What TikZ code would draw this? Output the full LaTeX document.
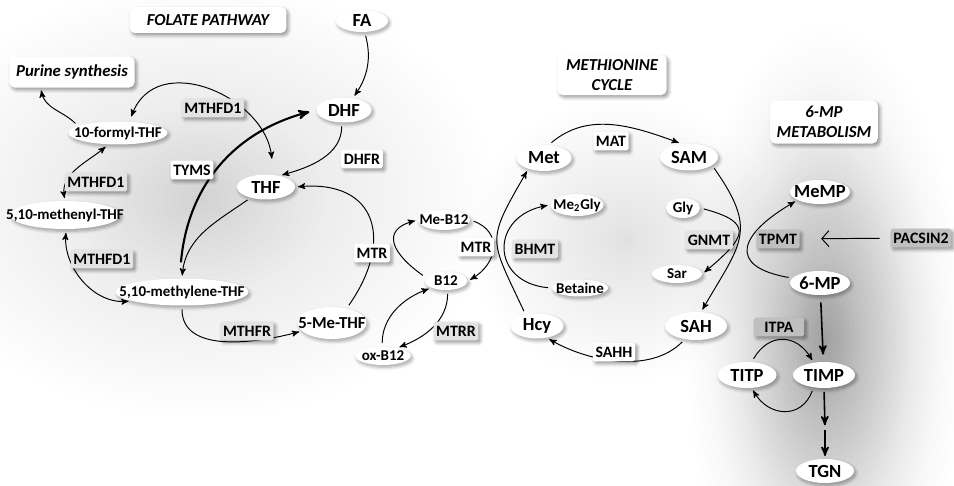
\documentclass[tikz,border=0pt]{standalone}
\usepackage{fontspec}
\setmainfont{Carlito}
\usetikzlibrary{arrows}
\usetikzlibrary{arrows.meta}
\usetikzlibrary{shapes.geometric}
\usetikzlibrary{shadows.blur}

\newcommand{\nm}[1]{\makebox[0pt]{#1}}

\tikzset{
  mol/.style 2 args={ellipse, fill=white, inner sep=0pt,
    minimum width=#1*0.567pt, minimum height=#2*0.567pt,
    font=\bfseries\fontsize{10.5}{11}\selectfont,
    blur shadow={shadow xshift=1pt, shadow yshift=-1.3pt, shadow blur steps=6, shadow opacity=35}},
  molsm/.style 2 args={mol={#1}{#2}, font=\bfseries\fontsize{8.5}{9}\selectfont},
  enz/.style={rectangle, rounded corners=1pt, fill=white, inner xsep=1.5pt, inner ysep=1.8pt,
    text height=6.4pt, text depth=.6pt, font=\bfseries\fontsize{9}{10}\selectfont,
    blur shadow={shadow xshift=1.2pt, shadow yshift=-1.4pt, shadow blur steps=5, shadow opacity=40}},
  enzg/.style={enz, fill=gray!22},
  enzd/.style={enz, fill=gray!50},
  ttlbox/.style={rectangle, rounded corners=3pt, fill=white, align=center, inner sep=0pt,
    font=\bfseries\itshape\fontsize{9.5}{11.3}\selectfont,
    blur shadow={shadow xshift=1.2pt, shadow yshift=-1.4pt, shadow blur steps=5, shadow opacity=40}},
  rxn/.style={->, >=stealth', line width=.55pt, shorten <=2pt, shorten >=1.5pt},
}

\begin{document}
\begin{tikzpicture}[x=0.567pt, y=0.567pt]
\useasboundingbox (0,0) rectangle (954,-486);
\clip (0,0) rectangle (954,-486);
% grey clouds behind the three pathways
\foreach \k [evaluate=\k as \opa using (41-\k)*0.000207,
             evaluate=\k as \opb using (41-\k)*0.000146,
             evaluate=\k as \opc using (41-\k)*0.00055] in {40,39,...,1} {
 \fill[black, opacity=\opa] (200,-200) ellipse [x radius=\k*9.5, y radius=\k*7];
 \fill[black, opacity=\opb] (625,-240) ellipse [x radius=\k*5.5, y radius=\k*5];
 \fill[black, opacity=\opc] (825,-340) ellipse [x radius=\k*3.75, y radius=\k*8.5];
}

% titles
\node[ttlbox, minimum width=89pt, minimum height=14.7pt] (ttlfol) at (208,-20) {FOLATE PATHWAY};
\node[ttlbox, minimum width=71pt, minimum height=17.6pt] (purine) at (72,-72) {Purine synthesis};
\node[ttlbox, minimum width=62pt, minimum height=22.7pt] (ttlmet) at (612,-75) {METHIONINE\\CYCLE};
\node[ttlbox, minimum width=61pt, minimum height=24.4pt] (ttlmp) at (824,-122) {6-MP\\METABOLISM};

% folate pathway
\node[mol={52}{22}] (FA) at (362,-21) {\nm{FA}};
\node[mol={55}{25}] (DHF) at (344,-110) {\nm{DHF}};
\node[mol={58}{25}] (THF) at (266,-187) {\nm{THF}};
\node[molsm={99}{23}] (formyl) at (118,-133) {\nm{10-formyl-THF}};
\node[molsm={110}{28}] (methenyl) at (65,-215) {\nm{5,10-methenyl-THF}};
\node[molsm={133}{27}] (methylene) at (182,-292) {\nm{5,10-methylene-THF}};
\node[mol={69}{32}, font=\bfseries\fontsize{9.5}{10}\selectfont] (meTHF) at (332,-323) {\nm{5-Me-THF}};
\node[molsm={52}{20}] (meB12) at (444,-220) {\nm{Me-B12}};
\node[molsm={43}{18}] (B12) at (446,-281) {\nm{B12}};
\node[molsm={55}{18}] (oxB12) at (383,-356) {\nm{ox-B12}};

% methionine cycle
\node[mol={55}{26}] (Met) at (544,-158) {\nm{Met}};
\node[mol={58}{27}] (SAM) at (689,-157) {\nm{SAM}};
\node[molsm={53}{22}] (Me2Gly) at (577,-205) {\nm{Me\textsubscript{2}Gly}};
\node[molsm={34}{20}] (Gly) at (683,-208) {\nm{Gly}};
\node[molsm={56}{17}] (Betaine) at (580,-288) {\nm{Betaine}};
\node[molsm={50}{18}] (Sar) at (677,-274) {\nm{Sar}};
\node[mol={53}{25}] (Hcy) at (537,-326) {\nm{Hcy}};
\node[mol={62}{28}] (SAH) at (696,-326) {\nm{SAH}};

% 6-MP metabolism
\node[mol={60}{24}] (MeMP) at (820,-192) {\nm{MeMP}};
\node[mol={60}{24}] (MP) at (820,-283) {\nm{6-MP}};
\node[mol={59}{26}] (TITP) at (747,-375) {\nm{TITP}};
\node[mol={62}{26}] (TIMP) at (824,-375) {\nm{TIMP}};
\node[mol={58}{24}] (TGN) at (825,-471) {\nm{TGN}};
\node[enzd] (PACSIN2) at (921,-238) {PACSIN2};
\coordinate (tgnmid) at (825,-428);

% reactions
\draw[rxn] (FA) to[bend left=25] (DHF);
\draw[rxn] (DHF.-100) to[out=-90, in=15] (THF.40);
\draw[rxn, <->, shorten <=3pt, shorten >=9pt] (formyl.45) to[out=70, in=95, looseness=1.3] (THF.60);
\draw[rxn, line width=1.2pt, shorten <=9pt, shorten >=4pt] (methylene.100) to[out=85, in=195, looseness=1.05] (DHF.west);
\draw[rxn] (THF.215) to[out=215, in=85] (methylene.north);
\draw[rxn] (formyl.170) to[out=135, in=-80] ([xshift=18pt]purine.south west);
\draw[rxn, <->] (formyl.230) to[out=220, in=100] (methenyl.north);
\draw[rxn, <->] (methenyl.-85) to[out=-95, in=185] (methylene.190);
\draw[rxn] (methylene.south) to[out=-90, in=195] (meTHF.195);
\draw[rxn] (meTHF.45) to[out=55, in=5, looseness=1.6] (THF.east);
\draw[rxn] (B12.170) to[out=145, in=195, looseness=1.75] (meB12.west);
\draw[rxn] (meB12.east) to[out=-20, in=30, looseness=1.45] (B12.east);
\draw[rxn] (B12.-80) to[out=-90, in=20] (oxB12.30);
\draw[rxn] (oxB12.95) to[out=90, in=200] (B12.205);
\draw[rxn] (Hcy.135) to[out=115, in=240, looseness=1.5] (Met.215);
\draw[rxn] (Betaine.west) to[out=175, in=190, looseness=1.9] (Me2Gly.west);
\draw[rxn] (Met.70) to[out=40, in=160] (SAM.120);
\draw[rxn] (SAM.-20) to[out=-55, in=60, looseness=1.4] (SAH.70);
\draw[rxn] (Gly.east) to[out=-15, in=40, looseness=2.2] (Sar.east);
\draw[rxn] (MP.170) to[out=170, in=210, looseness=2.2] (MeMP.200);
\draw[rxn] (SAH.230) to[out=-135, in=-30, looseness=.9] (Hcy.-50);
\draw[rxn, line width=.9pt, shorten <=4pt, shorten >=4pt] (MP) -- (TIMP);
\draw[rxn] (TITP.70) to[out=60, in=120, looseness=1.4] (TIMP.130);
\draw[rxn] (TIMP.-130) to[out=-110, in=-60, looseness=1.4] (TITP.-70);
\draw[rxn, line width=.9pt] (TIMP.south) -- (tgnmid);
\draw[rxn, line width=.9pt, shorten <=1pt] (tgnmid) -- (TGN.north);

% enzymes
\node[enzg] (mthfdA) at (213,-108) {MTHFD1};
\node[enz] (DHFR) at (362,-159) {DHFR};
\node[enz] (TYMS) at (192,-170) {TYMS};
\node[enzg] (mthfdB) at (96,-182) {MTHFD1};
\node[enzg] (mthfdC) at (102,-259) {MTHFD1};
\node[enzg] (MTHFR) at (247,-331) {MTHFR};
\node[enz] (mtrA) at (372,-253) {MTR};
\node[enz] (mtrB) at (476,-247) {MTR};
\node[enzg] (MTRR) at (456,-331) {MTRR};
\node[enz] (MAT) at (611,-141) {MAT};
\node[enzg] (BHMT) at (535,-249) {BHMT};
\node[enzg] (GNMT) at (709,-240) {GNMT};
\node[enz] (SAHH) at (614,-352) {SAHH};
\node[enzd] (TPMT) at (778,-239) {TPMT};
\node[enzd, inner xsep=6pt] (ITPA) at (779,-327) {ITPA};
\draw[line width=.55pt, -{Straight Barb[length=4pt,width=9pt]}, shorten <=6pt, shorten >=12pt] (PACSIN2) -- (TPMT);
\end{tikzpicture}
\end{document}
